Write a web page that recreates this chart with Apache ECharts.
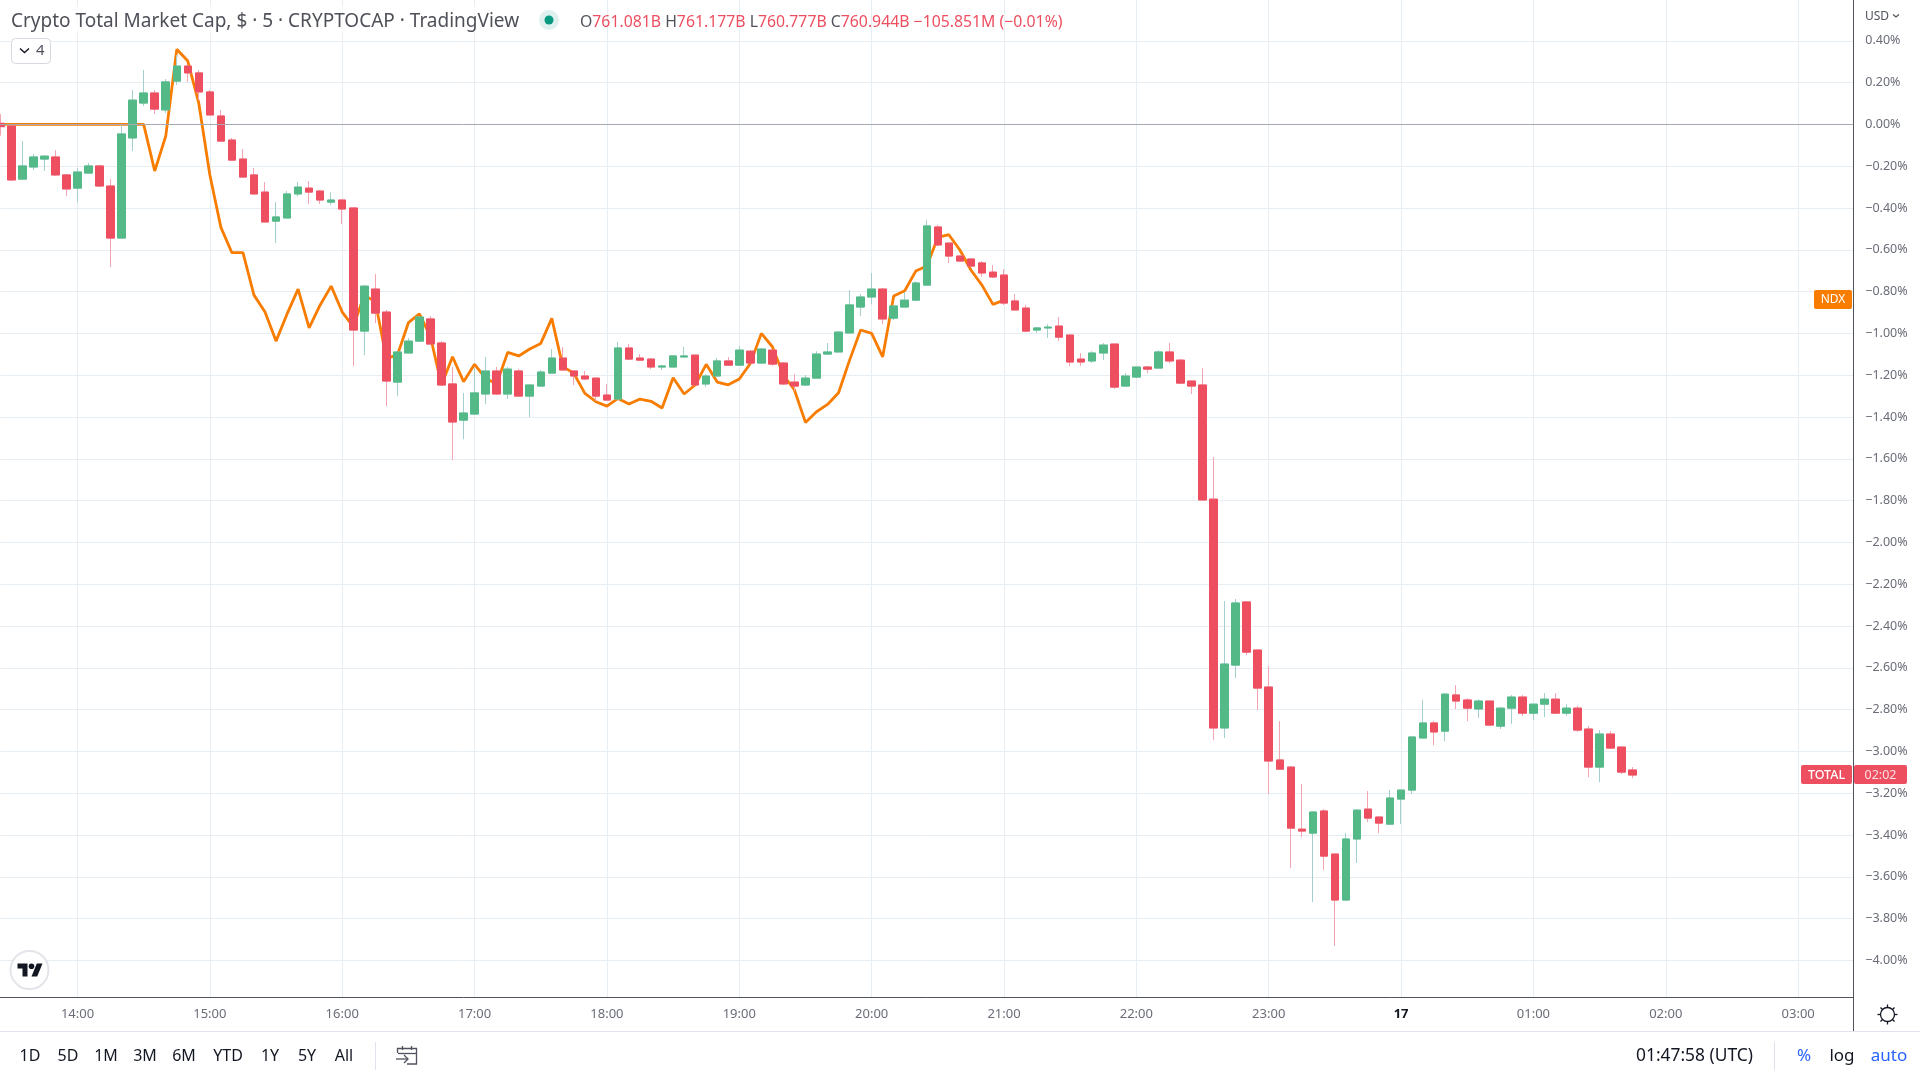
<!DOCTYPE html>
<html>
<head>
<meta charset="utf-8">
<title>Crypto Total Market Cap</title>
<script src="https://cdn.jsdelivr.net/npm/echarts@6/dist/echarts.min.js"></script>
<style>
  html, body { margin: 0; padding: 0; background: #fff; }
  #chart { width: 1920px; height: 1080px; }
</style>
</head>
<body>
<div id="chart"></div>
<script>
// percent change of TOTAL, one 5 minute bar each, first bar is 13:25
const opens = [0.005,-0.008,-0.262,-0.204,-0.166,-0.156,-0.242,-0.305,-0.233,-0.199,-0.295,-0.544,-0.065,0.102,0.150,0.069,0.207,0.279,0.246,0.155,0.040,-0.075,-0.166,-0.242,-0.324,-0.463,-0.448,-0.333,-0.305,-0.319,-0.372,-0.362,-0.400,-0.989,-0.788,-0.898,-1.233,-1.094,-1.037,-0.931,-1.046,-1.242,-1.415,-1.386,-1.290,-1.180,-1.290,-1.180,-1.300,-1.252,-1.190,-1.118,-1.180,-1.204,-1.214,-1.295,-1.314,-1.070,-1.118,-1.123,-1.161,-1.161,-1.113,-1.104,-1.242,-1.204,-1.132,-1.152,-1.085,-1.142,-1.080,-1.142,-1.233,-1.247,-1.214,-1.099,-1.089,-0.998,-0.874,-0.826,-0.788,-0.927,-0.874,-0.841,-0.769,-0.491,-0.568,-0.630,-0.644,-0.663,-0.707,-0.721,-0.845,-0.879,-0.984,-0.974,-0.965,-1.008,-1.123,-1.132,-1.094,-1.051,-1.252,-1.209,-1.161,-1.166,-1.089,-1.128,-1.228,-1.247,-1.793,-2.888,-2.587,-2.285,-2.515,-2.692,-3.041,-3.075,-3.372,-3.391,-3.285,-3.491,-3.711,-3.419,-3.276,-3.314,-3.348,-3.228,-3.185,-2.936,-2.864,-2.903,-2.730,-2.754,-2.797,-2.759,-2.879,-2.793,-2.740,-2.817,-2.774,-2.750,-2.817,-2.793,-2.893,-3.075,-2.917,-2.979,-3.089];
const closes = [-0.011,-0.266,-0.199,-0.156,-0.152,-0.242,-0.309,-0.228,-0.199,-0.295,-0.544,-0.046,0.116,0.150,0.073,0.203,0.279,0.246,0.155,0.045,-0.080,-0.171,-0.252,-0.333,-0.467,-0.443,-0.333,-0.300,-0.324,-0.362,-0.362,-0.405,-0.984,-0.774,-0.903,-1.228,-1.089,-1.037,-0.922,-1.051,-1.247,-1.424,-1.381,-1.285,-1.180,-1.290,-1.171,-1.300,-1.247,-1.185,-1.118,-1.175,-1.204,-1.218,-1.300,-1.319,-1.070,-1.123,-1.128,-1.161,-1.156,-1.108,-1.108,-1.247,-1.204,-1.132,-1.152,-1.080,-1.142,-1.075,-1.147,-1.242,-1.252,-1.214,-1.099,-1.089,-0.994,-0.864,-0.826,-0.788,-0.931,-0.869,-0.841,-0.759,-0.486,-0.577,-0.630,-0.654,-0.678,-0.711,-0.730,-0.855,-0.888,-0.989,-0.974,-0.970,-1.018,-1.137,-1.137,-1.094,-1.056,-1.257,-1.204,-1.161,-1.171,-1.089,-1.132,-1.238,-1.252,-1.797,-2.888,-2.582,-2.290,-2.525,-2.697,-3.046,-3.085,-3.367,-3.381,-3.290,-3.501,-3.711,-3.419,-3.281,-3.319,-3.343,-3.223,-3.185,-2.931,-2.864,-2.907,-2.726,-2.759,-2.793,-2.759,-2.874,-2.793,-2.740,-2.817,-2.774,-2.750,-2.817,-2.793,-2.898,-3.075,-2.917,-2.984,-3.099,-3.113];
const lows = [-0.054,-0.271,-0.262,-0.219,-0.223,-0.247,-0.343,-0.372,-0.233,-0.300,-0.683,-0.544,-0.128,0.088,0.049,0.054,0.188,0.203,0.116,0.045,-0.080,-0.171,-0.252,-0.333,-0.467,-0.568,-0.448,-0.343,-0.381,-0.381,-0.386,-0.477,-1.156,-1.104,-0.951,-1.348,-1.300,-1.094,-1.037,-1.051,-1.252,-1.606,-1.506,-1.386,-1.338,-1.295,-1.314,-1.300,-1.400,-1.252,-1.190,-1.175,-1.247,-1.223,-1.324,-1.319,-1.314,-1.128,-1.128,-1.171,-1.175,-1.161,-1.113,-1.247,-1.257,-1.204,-1.152,-1.152,-1.142,-1.142,-1.156,-1.247,-1.276,-1.252,-1.214,-1.099,-1.089,-0.998,-0.917,-0.860,-0.955,-0.936,-0.874,-0.841,-0.769,-0.582,-0.663,-0.654,-0.678,-0.730,-0.735,-0.864,-0.888,-0.994,-0.998,-1.022,-1.037,-1.156,-1.156,-1.142,-1.128,-1.266,-1.252,-1.214,-1.190,-1.166,-1.142,-1.238,-1.290,-1.797,-2.946,-2.936,-2.649,-2.539,-2.802,-3.204,-3.085,-3.558,-3.410,-3.721,-3.568,-3.931,-3.716,-3.534,-3.338,-3.391,-3.348,-3.348,-3.204,-2.936,-2.970,-2.951,-2.797,-2.855,-2.841,-2.879,-2.893,-2.869,-2.831,-2.850,-2.836,-2.821,-2.831,-2.907,-3.123,-3.147,-2.989,-3.108,-3.128];
const highs = [0.049,-0.008,-0.080,-0.142,-0.147,-0.123,-0.238,-0.209,-0.185,-0.195,-0.262,-0.003,0.164,0.260,0.164,0.217,0.332,0.279,0.260,0.164,0.069,-0.065,-0.118,-0.209,-0.276,-0.372,-0.319,-0.276,-0.271,-0.314,-0.324,-0.362,-0.396,-0.769,-0.716,-0.888,-1.089,-1.022,-0.922,-0.917,-1.037,-1.161,-1.285,-1.166,-1.113,-1.161,-1.161,-1.171,-1.247,-1.175,-1.075,-1.065,-1.180,-1.180,-1.214,-1.242,-1.041,-1.051,-1.099,-1.118,-1.152,-1.108,-1.065,-1.104,-1.195,-1.118,-1.113,-1.061,-1.080,-1.070,-1.080,-1.137,-1.195,-1.199,-1.085,-1.046,-0.989,-0.793,-0.812,-0.711,-0.783,-0.869,-0.802,-0.750,-0.458,-0.482,-0.568,-0.625,-0.644,-0.654,-0.673,-0.692,-0.812,-0.864,-0.970,-0.955,-0.922,-1.008,-1.094,-1.085,-1.046,-1.051,-1.190,-1.161,-1.156,-1.080,-1.046,-1.123,-1.228,-1.166,-1.592,-2.281,-2.271,-2.281,-2.515,-2.592,-2.855,-3.070,-3.156,-3.285,-3.276,-3.491,-3.391,-3.276,-3.190,-3.314,-3.185,-3.185,-2.931,-2.754,-2.855,-2.721,-2.683,-2.745,-2.750,-2.759,-2.788,-2.730,-2.730,-2.774,-2.721,-2.721,-2.774,-2.783,-2.879,-2.898,-2.903,-2.979,-3.075];
// NDX comparison, stops at the 21:00 close
const ndx = [0,0,0,0,0,0,0,0,0,0,0,0,0,0,-0.223,-0.056,0.359,0.303,0.100,-0.242,-0.493,-0.614,-0.614,-0.817,-0.898,-1.037,-0.907,-0.788,-0.974,-0.864,-0.774,-0.898,-0.968,-0.817,-0.848,-1.120,-1.104,-0.949,-0.907,-1.016,-1.247,-1.112,-1.231,-1.148,-1.215,-1.242,-1.091,-1.108,-1.075,-1.048,-0.928,-1.159,-1.191,-1.287,-1.327,-1.348,-1.311,-1.338,-1.314,-1.325,-1.357,-1.212,-1.290,-1.247,-1.148,-1.233,-1.246,-1.218,-1.144,-1.000,-1.064,-1.199,-1.271,-1.426,-1.375,-1.340,-1.284,-1.128,-0.984,-1.000,-1.112,-0.821,-0.796,-0.702,-0.678,-0.541,-0.528,-0.601,-0.697,-0.769,-0.861,-0.841];

const hourLabels = ['14:00','15:00','16:00','17:00','18:00','19:00','20:00','21:00','22:00','23:00','17','01:00','02:00','03:00'];
const rangeButtons = ['1D','5D','1M','3M','6M','YTD','1Y','5Y','All'];
const rangeCenters = [30,68,106,145,184,228,270,307,344];

const FONT = '"Noto Sans", sans-serif';
const UP = '#53b987', DOWN = '#ee4f60';
const UP_WICK = '#a3cfcc', DOWN_WICK = '#f4a3b0';
const GRID = '#e6edf3', AXIS = '#50535e', TEXT = '#50535e';

// 13:25 through 03:25, one category per bar
const categories = [];
for (let m = 13 * 60 + 25; m <= 27 * 60 + 25; m += 5) {
  const h = Math.floor(m / 60) % 24, mm = m % 60;
  if (h === 0 && mm === 0) categories.push('17');
  else categories.push(String(h).padStart(2, '0') + ':' + String(mm).padStart(2, '0'));
}
const isHour = (i, name) => hourLabels.indexOf(name) >= 0;

const wickData = opens.map((o, i) => [o, closes[i], lows[i], highs[i]]);
const bodyData = opens.map((o, i) => [o, closes[i], Math.min(o, closes[i]), Math.max(o, closes[i])]);

function text(str, x, y, extra) {
  return {
    type: 'text', z: 20, silent: true,
    style: Object.assign({
      text: str, x: x, y: y, fill: TEXT, align: 'left', verticalAlign: 'middle',
      font: '14px ' + FONT
    }, extra)
  };
}
// the graphic component has no path type, icons are polylines and circles
function poly(points, color, width) {
  return {
    type: 'polyline', z: 20, silent: true, shape: { points: points },
    style: { fill: 'none', stroke: color, lineWidth: width || 1.4 }
  };
}
function seg(x1, y1, x2, y2, color, width) {
  return poly([[x1, y1], [x2, y2]], color, width);
}
function rect(x, y, w, h, fill, r) {
  return { type: 'rect', z: 19, silent: true, shape: { x: x, y: y, width: w, height: h, r: r || 0 }, style: { fill: fill } };
}
function circle(cx, cy, r, style) {
  return { type: 'circle', z: 20, silent: true, shape: { cx: cx, cy: cy, r: r }, style: style };
}

const chrome = [
  // header
  rect(6, 6, 524, 27, 'rgba(255,255,255,0.7)'),
  text('Crypto Total Market Cap, $ · 5 · CRYPTOCAP · TradingView', 11, 22, { font: '19px ' + FONT, fill: '#4f5159' }),
  circle(549, 20, 10, { fill: '#dff1ee' }),
  circle(549, 20, 4.5, { fill: '#089981' }),
  text('{l|O}{v|761.081B} {l|H}{v|761.177B} {l|L}{v|760.777B} {l|C}{v|760.944B} {v|−105.851M (−0.01%)}', 580, 22, {
    font: '15.8px ' + FONT,
    rich: {
      l: { fill: '#50535e', font: '15.8px ' + FONT },
      v: { fill: '#ee4f60', font: '15.8px ' + FONT }
    }
  }),
  // collapsed indicators box
  { type: 'rect', z: 19, silent: true, shape: { x: 11.5, y: 38.5, width: 39, height: 25, r: 4 }, style: { fill: '#fff', stroke: '#d6d9e0', lineWidth: 1 } },
  poly([[20, 48.5], [24.5, 52.5], [29, 48.5]], '#131722', 1.4),
  text('4', 36, 51, { font: '15px ' + FONT }),
  // USD selector
  text('USD', 1865, 17, { font: '12px ' + FONT }),
  poly([[1893, 14.5], [1896, 17], [1899, 14.5]], TEXT, 1.2),
  // price tags
  rect(1814, 290, 38, 19, '#f77c00', 2),
  text('NDX', 1833, 300, { font: '12px ' + FONT, fill: '#fff', align: 'center' }),
  rect(1801, 765, 51, 19, DOWN, 2),
  text('TOTAL', 1826.5, 775, { font: '500 12.5px ' + FONT, fill: '#fff', align: 'center' }),
  rect(1854, 765, 53, 19, DOWN, 2),
  text('02:02', 1880.5, 775, { font: '12.5px ' + FONT, fill: '#fcdfe3', align: 'center' }),
  // logo
  circle(29.5, 970, 19, { fill: '#fff', stroke: '#e3e5ea', lineWidth: 2 }),
  { type: 'polygon', z: 21, silent: true, shape: { points: [[17.5, 963.5], [27.5, 963.5], [27.5, 976.5], [22.5, 976.5], [22.5, 968.5], [17.5, 968.5]] }, style: { fill: '#131722' } },
  { type: 'polygon', z: 21, silent: true, shape: { points: [[31.5, 976.5], [36.8, 963.5], [42.5, 963.5], [37.2, 976.5]] }, style: { fill: '#131722' } },
  { type: 'circle', z: 21, silent: true, shape: { cx: 31.5, cy: 966.3, r: 2.8 }, style: { fill: '#131722' } },
  // price scale and time scale frame
  seg(1853.5, 997, 1853.5, 1031, AXIS, 1),
  seg(0, 1031.5, 1920, 1031.5, '#e0e3eb', 1),
  // gear
  circle(1887.5, 1014.5, 7, { fill: 'none', stroke: '#131722', lineWidth: 1.3 }),
  seg(1887.5, 1004.5, 1887.5, 1007.5, '#131722', 1.3),
  seg(1887.5, 1021.5, 1887.5, 1024.5, '#131722', 1.3),
  seg(1877.5, 1014.5, 1880.5, 1014.5, '#131722', 1.3),
  seg(1894.5, 1014.5, 1897.5, 1014.5, '#131722', 1.3),
  seg(1880.5, 1007.5, 1882.5, 1009.5, '#131722', 1.3),
  seg(1892.5, 1019.5, 1894.5, 1021.5, '#131722', 1.3),
  seg(1894.5, 1007.5, 1892.5, 1009.5, '#131722', 1.3),
  seg(1882.5, 1019.5, 1880.5, 1021.5, '#131722', 1.3),
  // bottom toolbar
  seg(375.5, 1042, 375.5, 1070, '#e0e3eb', 1),
  poly([[397.5, 1053], [397.5, 1048.5], [416.5, 1048.5], [416.5, 1064], [407, 1064]], '#50535e', 1.3),
  seg(398, 1053.5, 416, 1053.5, '#50535e', 1.3),
  seg(402.5, 1046, 402.5, 1050, '#50535e', 1.3),
  seg(411.5, 1046, 411.5, 1050, '#50535e', 1.3),
  seg(396, 1059, 408, 1059, '#50535e', 1.3),
  poly([[404, 1055], [408, 1059], [404, 1063]], '#50535e', 1.3),
  seg(1774.5, 1042, 1774.5, 1070, '#e0e3eb', 1),
  text('01:47:58 (UTC)', 1636, 1056.5, { font: '17.4px ' + FONT, fill: '#131722' }),
  text('%', 1804, 1056.5, { font: '17px ' + FONT, fill: '#2962ff', align: 'center' }),
  text('log', 1842, 1056.5, { font: '17px ' + FONT, fill: '#131722', align: 'center' }),
  text('auto', 1889, 1056.5, { font: '17px ' + FONT, fill: '#2962ff', align: 'center' })
].concat(rangeButtons.map((b, i) => text(b, rangeCenters[i], 1056.5, { font: '16px ' + FONT, fill: '#131722', align: 'center' })));

const chart = echarts.init(document.getElementById('chart'));
chart.setOption({
  animation: false,
  backgroundColor: '#fff',
  grid: { left: 0.3, top: 0, width: 1853, height: 997 },
  xAxis: {
    type: 'category',
    data: categories,
    boundaryGap: false,
    axisLine: { onZero: false, lineStyle: { color: AXIS, width: 1 } },
    axisTick: { show: false },
    axisLabel: {
      interval: isHour, margin: 11, color: '#6a6d78', fontFamily: FONT, fontSize: 13,
      formatter: v => v === '17' ? '{b|17}' : v,
      rich: { b: { fontWeight: 'bold', color: '#131722', fontFamily: FONT, fontSize: 13 } }
    },
    splitLine: { show: true, interval: isHour, lineStyle: { color: GRID, width: 1 } }
  },
  yAxis: {
    type: 'value',
    position: 'right',
    min: -4.175,
    max: 0.595,
    splitNumber: 24,
    axisLine: { show: true, lineStyle: { color: AXIS, width: 1 } },
    axisTick: { show: false },
    axisLabel: {
      margin: 12, color: '#6a6d78', fontFamily: FONT, fontSize: 12.5, padding: [4, 0, 0, 0],
      showMinLabel: false, showMaxLabel: false,
      formatter: v => (v < -0.001 ? '−' : '') + Math.abs(v).toFixed(2) + '%'
    },
    splitLine: { show: true, showMinLine: false, showMaxLine: false, lineStyle: { color: GRID, width: 1 } }
  },
  series: [
    {
      name: 'NDX',
      type: 'line',
      data: ndx,
      symbol: 'none',
      lineStyle: { color: '#f77c00', width: 2.8 },
      z: 2,
      markLine: {
        silent: true, symbol: 'none', label: { show: false },
        lineStyle: { color: '#a8a8b3', width: 1, type: 'solid' },
        data: [{ yAxis: 0 }]
      }
    },
    {
      name: 'wicks',
      type: 'candlestick',
      data: wickData,
      barWidth: 8,
      z: 3,
      itemStyle: { color: 'transparent', color0: 'transparent', borderColor: UP_WICK, borderColor0: DOWN_WICK, borderWidth: 1 }
    },
    {
      name: 'TOTAL',
      type: 'candlestick',
      data: bodyData,
      barWidth: 8,
      z: 4,
      itemStyle: { color: UP, color0: DOWN, borderColor: UP, borderColor0: DOWN, borderWidth: 1 }
    }
  ],
  graphic: chrome
});
</script>
</body>
</html>
